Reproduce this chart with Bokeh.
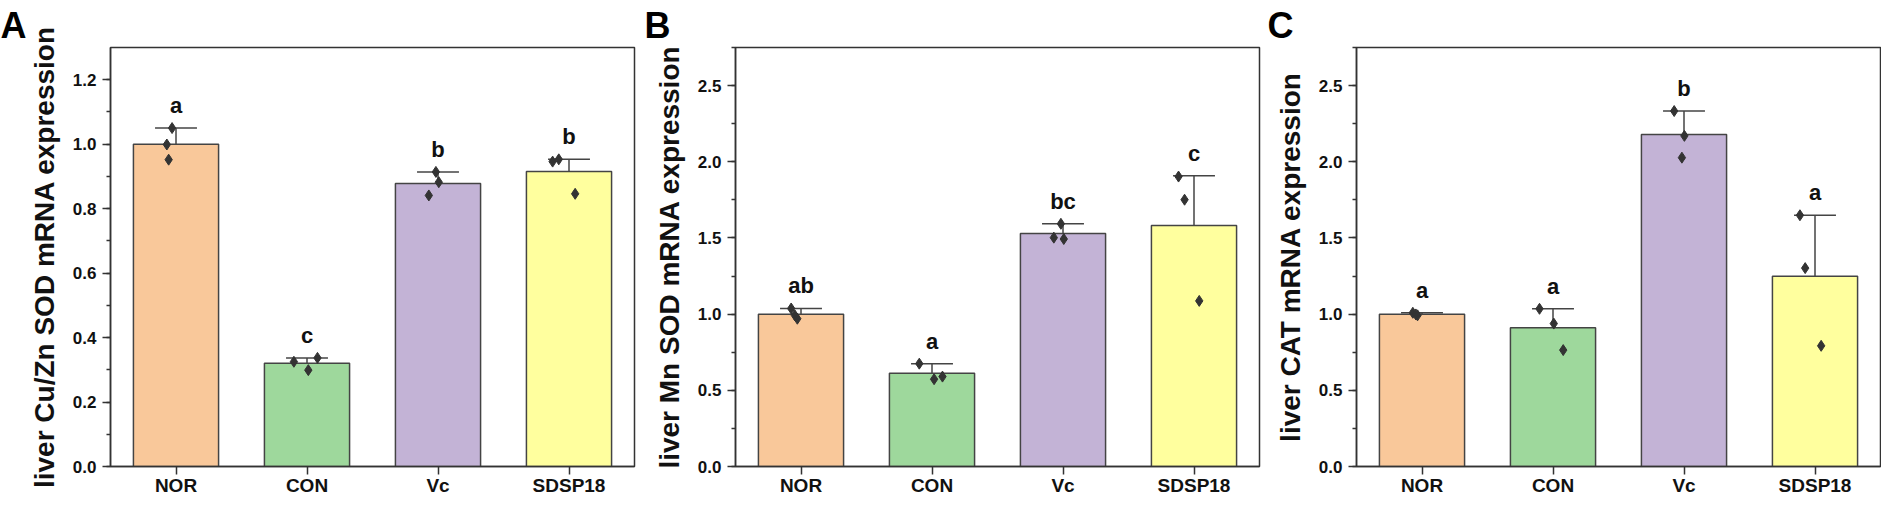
from bokeh.plotting import figure
from bokeh.models import Range1d, SingleIntervalTicker, FixedTicker, PrintfTickFormatter, ColumnDataSource
from bokeh.layouts import row
from bokeh.embed import file_html
from bokeh.resources import INLINE
from bokeh.core.properties import value

categories = ["NOR", "CON", "Vc", "SDSP18"]
bar_colors = ["#F9C89A", "#9ED89C", "#C3B3D6", "#FFFF9E"]

# Panel A: liver Cu/Zn SOD
a_mean = [1.000, 0.320, 0.878, 0.915]
a_err = [0.050, 0.017, 0.036, 0.038]
a_points = [[1.050, 0.999, 0.952], [0.325, 0.299, 0.337], [0.914, 0.882, 0.841], [0.946, 0.953, 0.846]]
a_jitter = [[-0.03, -0.07, -0.056], [-0.10, 0.01, 0.08], [-0.016, 0.006, -0.07], [-0.125, -0.078, 0.047]]
a_letters = ["a", "c", "b", "b"]

# Panel B: liver Mn SOD
b_mean = [1.000, 0.612, 1.530, 1.582]
b_err = [0.037, 0.063, 0.063, 0.326]
b_points = [[1.037, 0.992, 0.970], [0.675, 0.573, 0.590], [1.593, 1.502, 1.493], [1.903, 1.751, 1.087]]
b_jitter = [[-0.075, -0.047, -0.028], [-0.097, 0.016, 0.08], [-0.016, -0.07, 0.006], [-0.118, -0.072, 0.04]]
b_letters = ["ab", "a", "bc", "c"]

# Panel C: liver CAT
c_mean = [1.000, 0.911, 2.179, 1.248]
c_err = [0.009, 0.124, 0.154, 0.401]
c_points = [[1.009, 0.998, 0.992], [1.035, 0.938, 0.764], [2.333, 2.170, 2.027], [1.649, 1.302, 0.792]]
c_jitter = [[-0.07, -0.047, -0.034], [-0.103, 0.006, 0.078], [-0.075, 0.003, -0.016], [-0.115, -0.075, 0.047]]
c_letters = ["a", "a", "b", "a"]

FONT = "Liberation Sans"
AXC = "#333333"


def panel(tag, ylabel, mean, err, points, jitter, letters, ymax, interval,
          width, left, right, tag_dx):
    p = figure(width=width, height=498, output_backend="svg", toolbar_location=None,
               x_range=Range1d(0.5, len(categories) + 0.5), y_range=Range1d(0, ymax),
               min_border_left=left, min_border_right=right, min_border_top=47,
               min_border_bottom=29, title=tag)
    p.grid.visible = False
    p.outline_line_color = AXC
    p.outline_line_width = 1.5
    p.outline_line_alpha = 1.0
    p.background_fill_color = "white"
    p.border_fill_color = "white"

    # panel tag as the figure title, pushed to the left edge of the figure
    p.title.text_font = FONT
    p.title.text_font_style = "bold"
    p.title.text_font_size = "36px"
    p.title.text_color = "#000000"
    p.title.align = "left"
    p.title.vertical_align = "top"
    p.title.offset = -left + tag_dx
    p.title.standoff = 0

    xs = [i + 1 for i in range(len(categories))]
    tops = [m + e for m, e in zip(mean, err)]
    src = ColumnDataSource(dict(x=xs, top=mean, cap=tops, color=bar_colors,
                                left=[x - 0.16 for x in xs], right=[x + 0.16 for x in xs],
                                letter=letters))
    p.vbar(x="x", top="top", bottom=0, width=0.65, fill_color="color",
           line_color="#444444", line_width=1.5, source=src)
    p.segment(x0="x", y0="top", x1="x", y1="cap", line_color="#444444", line_width=1.5, source=src)
    p.segment(x0="left", y0="cap", x1="right", y1="cap", line_color="#444444", line_width=1.5, source=src)

    px, py = [], []
    for i, (vals, jit) in enumerate(zip(points, jitter)):
        for v, j in zip(vals, jit):
            px.append(xs[i] + j)
            py.append(v)
    p.scatter(px, py, marker="diamond", size=11, fill_color="#333333", line_color="#333333")

    p.text(x="x", y="cap", text="letter", source=src, text_align="center",
           text_baseline="bottom", y_offset=-10, text_font=value(FONT),
           text_font_style="bold", text_font_size="22px", text_color="#111111")

    # axes
    xa = p.xaxis[0]
    xa.ticker = FixedTicker(ticks=xs)
    xa.major_label_overrides = {x: c for x, c in zip(xs, categories)}
    xa.major_tick_out = 8
    xa.major_tick_in = 0
    xa.minor_tick_out = 0
    xa.minor_tick_in = 0
    xa.major_label_standoff = 0
    ya = p.yaxis[0]
    ya.ticker = SingleIntervalTicker(interval=interval, num_minor_ticks=2)
    ya.formatter = PrintfTickFormatter(format="%.1f")
    ya.major_tick_out = 8
    ya.major_tick_in = 0
    ya.minor_tick_out = 4
    ya.minor_tick_in = 0
    ya.major_label_standoff = 6
    ya.axis_label = ylabel
    ya.axis_label_standoff = 10
    ya.axis_label_text_font = FONT
    ya.axis_label_text_font_style = "bold"
    ya.axis_label_text_font_size = "28px"
    ya.axis_label_text_color = "#111111"
    for ax in (xa, ya):
        ax.axis_line_color = AXC
        ax.axis_line_width = 1.5
        ax.major_tick_line_color = AXC
        ax.major_tick_line_width = 1.5
        ax.minor_tick_line_color = AXC
        ax.minor_tick_line_width = 1.5
        ax.major_label_text_font = FONT
        ax.major_label_text_font_style = "bold"
        ax.major_label_text_color = "#111111"
    xa.major_label_text_font_size = "19px"
    ya.major_label_text_font_size = "17px"
    return p


pa = panel("A", "liver Cu/Zn SOD mRNA expression", a_mean, a_err, a_points, a_jitter,
           a_letters, 1.3, 0.2, 642, 110, 8, 0)
pb = panel("B", "liver Mn SOD mRNA expression", b_mean, b_err, b_points, b_jitter,
           b_letters, 2.75, 0.5, 625, 93, 8, 2)
pc = panel("C", "liver CAT mRNA expression", c_mean, c_err, c_points, c_jitter,
           c_letters, 2.75, 0.5, 614, 89, 1, 0)

layout = row(pa, pb, pc)
open("out.html", "w").write(file_html(layout, INLINE))
